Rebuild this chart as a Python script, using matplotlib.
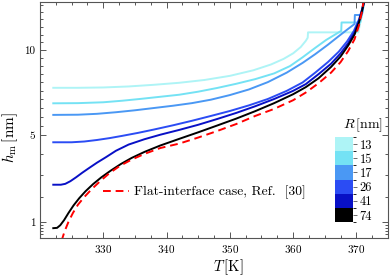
import matplotlib.pyplot as plt
import numpy as np
from matplotlib.colors import ListedColormap, BoundaryNorm
from matplotlib.cm import ScalarMappable
from matplotlib.ticker import FixedLocator

plt.rcParams['font.family'] = 'serif'
plt.rcParams['font.serif'] = ['cmr10']
plt.rcParams['mathtext.fontset'] = 'cm'
plt.rcParams['axes.formatter.use_mathtext'] = True

# data: T [K] and h_m [nm] for each radius R
radii = ['13', '15', '17', '26', '41', '74']
colors = ['#aef4f6', '#74e2f4', '#4a98f4', '#2b4cf4', '#0810c6', '#000000']

T13 = [322.1, 326, 330, 334, 338, 342, 346, 350, 353.7, 356.5, 358.5, 360, 361.2, 362.0, 362.3, 362.35, 370.3, 370.7, 371.0, 371.25]
h13 = [7.68, 7.68, 7.70, 7.76, 7.86, 7.98, 8.15, 8.40, 8.74, 9.10, 9.45, 9.80, 10.2, 10.6, 10.8, 11.15, 11.15, 12.0, 12.6, 13.3]

T15 = [322.1, 326, 330, 333, 336, 339, 342, 345, 348, 351, 354, 357, 359.5, 361.5, 363.5, 365.2, 366.6, 367.6, 367.65, 370.6, 371.0, 371.25]
h15 = [6.77, 6.78, 6.83, 6.92, 7.03, 7.15, 7.27, 7.45, 7.67, 7.92, 8.20, 8.55, 9.0, 9.55, 10.15, 10.65, 11.0, 11.25, 11.8, 11.8, 12.6, 13.3]

T17 = [322.1, 326, 329, 332, 335, 338, 341, 344, 347, 350, 353, 356, 359, 361.5, 363.5, 365.5, 367.2, 368.6, 369.7, 369.75, 370.85, 371.25]
h17 = [6.11, 6.12, 6.17, 6.26, 6.37, 6.50, 6.63, 6.78, 6.98, 7.25, 7.58, 8.02, 8.60, 9.2, 9.75, 10.35, 10.9, 11.35, 11.7, 12.3, 12.3, 13.3]

T26 = [322.1, 325, 327, 329, 331, 333, 335.5, 338, 341, 344, 347, 350, 353, 356, 359, 361.5, 363.5, 365.5, 367.2, 368.5, 369.6, 370.4, 370.9, 371.25]
h26 = [4.62, 4.62, 4.66, 4.74, 4.84, 4.96, 5.12, 5.30, 5.53, 5.78, 6.05, 6.33, 6.65, 7.02, 7.50, 8.0, 8.6, 9.25, 9.9, 10.55, 11.25, 12.0, 12.7, 13.3]

T41 = [322.1, 323.3, 324.0, 324.8, 325.7, 326.7, 327.8, 329.0, 330.4, 332, 334, 336.5, 339, 342, 345, 348, 351, 354, 357, 360, 362, 364, 366, 367.5, 368.7, 369.7, 370.4, 370.9, 371.25]
h41 = [2.54, 2.54, 2.58, 2.70, 2.88, 3.10, 3.33, 3.58, 3.85, 4.18, 4.50, 4.78, 5.02, 5.28, 5.56, 5.88, 6.22, 6.60, 7.02, 7.50, 7.90, 8.50, 9.15, 9.80, 10.45, 11.15, 11.9, 12.65, 13.3]

T74 = [322.1, 322.7, 323.2, 323.8, 324.5, 325.3, 326.2, 327.2, 328.4, 329.7, 331.2, 332.8, 334.5, 336.5, 339, 342, 345, 348, 351, 354, 357, 360, 362, 364, 366, 367.5, 368.7, 369.7, 370.4, 370.9, 371.25]
h74 = [0.80, 0.81, 0.90, 1.08, 1.35, 1.65, 1.95, 2.25, 2.57, 2.88, 3.20, 3.52, 3.82, 4.12, 4.45, 4.80, 5.15, 5.52, 5.90, 6.32, 6.78, 7.30, 7.72, 8.25, 8.95, 9.60, 10.3, 11.0, 11.8, 12.6, 13.3]

Tflat = [323.4, 323.9, 324.5, 325.2, 326.0, 327.0, 328.2, 329.5, 331.0, 332.6, 334.4, 336.5, 339, 342, 345, 348, 351, 354, 357, 360, 362, 364, 366, 367.5, 368.7, 369.7, 370.4, 370.85, 371.15]
hflat = [0.40, 0.70, 1.02, 1.35, 1.68, 2.00, 2.35, 2.70, 3.08, 3.42, 3.72, 4.02, 4.32, 4.55, 4.87, 5.22, 5.60, 6.05, 6.45, 6.95, 7.40, 7.95, 8.60, 9.25, 9.95, 10.7, 11.6, 12.5, 13.3]

curves = [(T13, h13), (T15, h15), (T17, h17), (T26, h26), (T41, h41), (T74, h74)]

fig = plt.figure(figsize=(3.92, 2.79), dpi=100)
ax = fig.add_axes([0.102, 0.147, 0.888, 0.847])

ax.set_yscale('function', functions=(lambda h: np.sign(h) * np.abs(h) ** 0.75,
                                     lambda f: np.sign(f) * np.abs(f) ** (4 / 3)))

for (T, h), c in zip(curves, colors):
    ax.plot(T, h, color=c, lw=1.4, solid_joinstyle='round')

ax.plot(Tflat, hflat, color='#ff0000', lw=1.4, dashes=(4, 2.5),
        label='Flat-interface case, Ref.  [30]')

ax.set_xlim(320, 375)
ax.set_ylim(0.486, 13.2)
ax.set_xticks([330, 340, 350, 360, 370])
ax.xaxis.set_minor_locator(FixedLocator(np.arange(320, 375.1, 2.5)))
ax.set_yticks([1, 5, 10])
ax.set_yticklabels(['1', '5', '10'])
ax.yaxis.set_minor_locator(FixedLocator([0.5, 0.6, 0.7, 0.8, 0.9, 2, 3, 4] + list(np.arange(5.5, 13.1, 0.5))))
ax.yaxis.set_minor_formatter(plt.NullFormatter())
ax.tick_params(which='both', direction='in', top=True, right=True, colors='#555555',
               labelcolor='black', labelsize=8, width=0.7)
ax.tick_params(which='major', length=4)
ax.tick_params(which='minor', length=2)
for s in ax.spines.values():
    s.set_color('#555555')
    s.set_linewidth(0.8)

ax.set_xlabel(r'$T\,[\mathrm{K}]$', fontsize=10.5)
ax.xaxis.set_label_coords(0.54, -0.08)
ax.set_ylabel(r'$h_\mathrm{m}\,[\mathrm{nm}]$', fontsize=11)
ax.yaxis.set_label_coords(-0.058, 0.425)

ax.legend(loc='center left', bbox_to_anchor=(0.181, 0.193), frameon=False,
          fontsize=9.8, handlelength=1.9, handletextpad=0.35, borderpad=0,
          borderaxespad=0)

# discrete colour bar for R
cax = fig.add_axes([0.855, 0.204, 0.046, 0.305])
cmap = ListedColormap(colors[::-1])
norm = BoundaryNorm(np.arange(7) - 0.5, 6)
cb = fig.colorbar(ScalarMappable(norm=norm, cmap=cmap), cax=cax, ticks=range(6))
cb.set_ticklabels(radii[::-1])
cb.outline.set_visible(False)
cax.tick_params(labelsize=9, length=3, width=0.6, direction='out', pad=1.5, colors='#555555',
                labelcolor='black')
fig.text(363 / 392, 1 - 125 / 279, r'$R\,[\mathrm{nm}]$', fontsize=10, ha='center', va='center')

fig.savefig('out.png', dpi=100)
